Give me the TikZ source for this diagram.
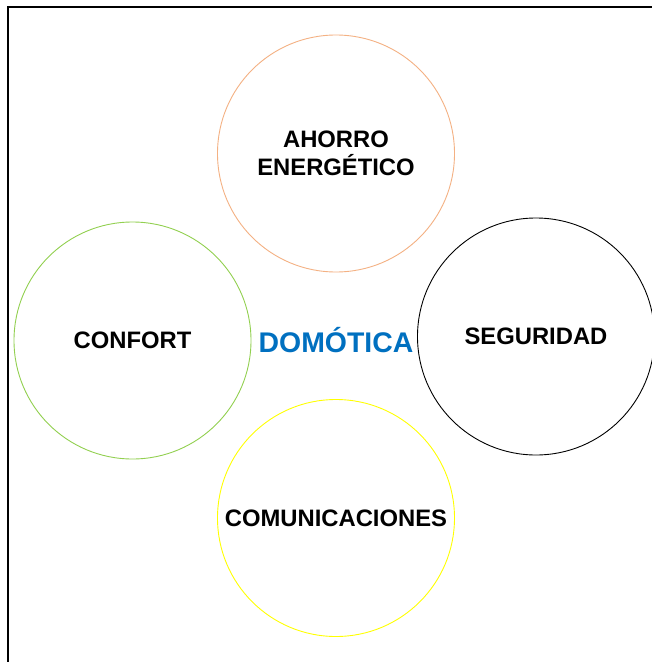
\documentclass[tikz,border=0pt]{standalone}
\usepackage{fontspec}
\setmainfont{Liberation Sans}
\definecolor{orangec}{HTML}{F4B183}
\definecolor{greenc}{HTML}{92D050}
\definecolor{yellowc}{HTML}{FFFF00}
\definecolor{bluet}{HTML}{0070C0}
\begin{document}
\begin{tikzpicture}[x=1pt,y=-1pt,
  ring/.style={circle,draw,line width=0.9pt,minimum size=237pt,inner sep=0pt,
    align=center,font=\fontsize{23.8}{28}\selectfont\bfseries},
  title/.style={font=\fontsize{28.4}{32}\selectfont\bfseries,text=bluet}]
\useasboundingbox (0,0) rectangle (652,662);
\fill[white] (0,0) rectangle (652,662);
\coordinate (tl) at (8,6.5);
\coordinate (tr) at (653,6.5);
\coordinate (bl) at (8,663);
\draw[line width=2pt] (tr) -- (tl) -- (bl);
\node[ring,draw=orangec] (ahorro) at (336,153.5) {AHORRO\\ENERGÉTICO};
\node[ring,draw=greenc] (confort) at (132.5,340.5) {CONFORT};
\node[ring,draw=black] (seg) at (536,336.5) {SEGURIDAD};
\node[ring,draw=yellowc] (com) at (336,518) {COMUNICACIONES};
\node[title] (dom) at (336,340) {DOMÓTICA};
\end{tikzpicture}
\end{document}
